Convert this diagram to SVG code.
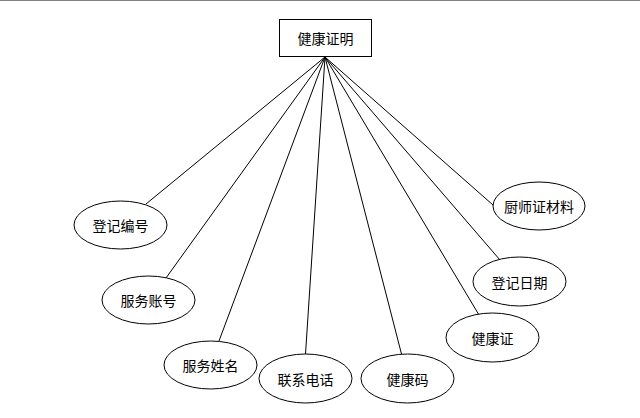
<svg xmlns="http://www.w3.org/2000/svg" width="640" height="418" viewBox="0 0 640 418">
<style>
.n{fill:#fff;stroke:#000;stroke-width:1}
.t{font-family:"Noto Sans CJK SC","Liberation Sans",sans-serif;font-size:14px;fill:#000;text-anchor:middle;dominant-baseline:central}
.c line{stroke:#000;stroke-width:1}
</style>
<rect x="0" y="0" width="640" height="418" fill="#fff"/>
<rect x="0" y="0" width="640" height="1" fill="#808080"/>
<g class="c" id="connectors">
<line x1="325" y1="57" x2="146" y2="204"/>
<line x1="325" y1="57" x2="166" y2="278"/>
<line x1="325" y1="57" x2="219" y2="341"/>
<line x1="325" y1="57" x2="305.5" y2="354"/>
<line x1="325" y1="57" x2="401.5" y2="354"/>
<line x1="325" y1="57" x2="479" y2="315"/>
<line x1="325" y1="57" x2="500" y2="260"/>
<line x1="325" y1="57" x2="493" y2="205"/>
</g>
<g id="main"><rect class="n" x="279.5" y="19.5" width="92" height="37"/><text class="t" x="325.5" y="38">健康证明</text></g>
<g id="a1"><ellipse class="n" cx="120.5" cy="225" rx="46.5" ry="24"/><text class="t" x="120.5" y="225">登记编号</text></g>
<g id="a2"><ellipse class="n" cx="148.5" cy="300" rx="46.5" ry="24"/><text class="t" x="148.5" y="300">服务账号</text></g>
<g id="a3"><ellipse class="n" cx="210.5" cy="365" rx="46.5" ry="24"/><text class="t" x="210.5" y="365">服务姓名</text></g>
<g id="a4"><ellipse class="n" cx="305.5" cy="378.5" rx="46.5" ry="24.5"/><text class="t" x="305.5" y="378.5">联系电话</text></g>
<g id="a5"><ellipse class="n" cx="407.5" cy="378.5" rx="46.5" ry="24.5"/><text class="t" x="407.5" y="378.5">健康码</text></g>
<g id="a6"><ellipse class="n" cx="492.5" cy="337.5" rx="46.5" ry="24.5"/><text class="t" x="492.5" y="337.5">健康证</text></g>
<g id="a7"><ellipse class="n" cx="519.5" cy="281.5" rx="46.5" ry="24.5"/><text class="t" x="519.5" y="281.5">登记日期</text></g>
<g id="a8"><ellipse class="n" cx="539" cy="206" rx="46" ry="24"/><text class="t" x="539" y="206">厨师证材料</text></g>
</svg>
